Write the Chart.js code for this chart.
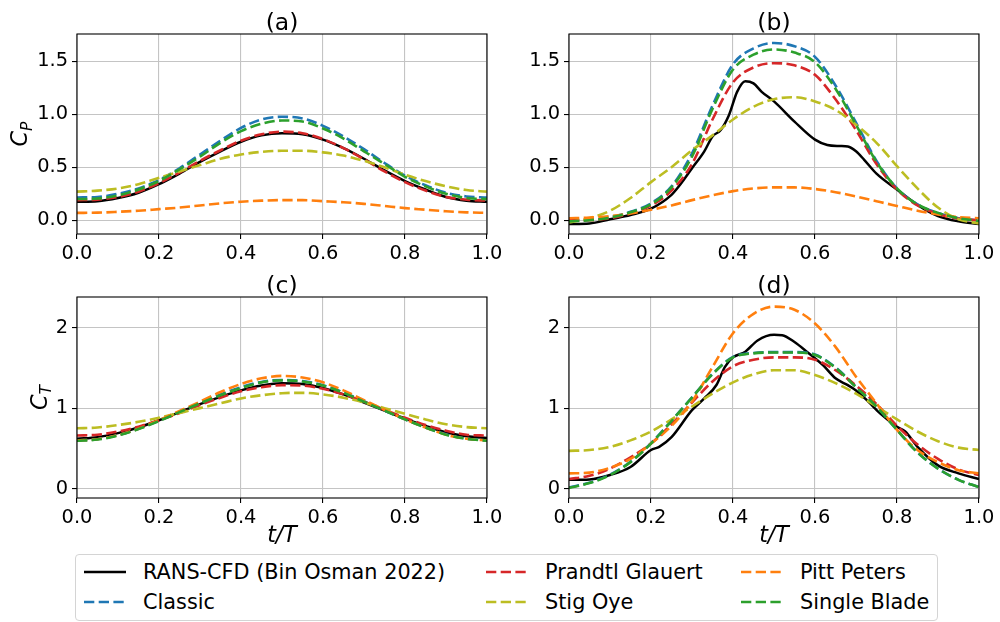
<!DOCTYPE html>
<html>
<head>
<meta charset="utf-8">
<script src="https://cdn.jsdelivr.net/npm/chart.js"></script>
<style>
  body{margin:0;background:#fff;font-family:"DejaVu Sans",sans-serif;}
  #wrap{position:relative;width:1000px;height:622px;overflow:hidden;}
  canvas{position:absolute;left:0;top:0;}
  #legend{position:absolute;left:75px;top:554px;width:861px;height:65px;border:1px solid #d4d4d4;border-radius:4px;background:#fff;}
  .item{position:absolute;height:24px;}
  .item svg{position:absolute;left:0;top:9px;}
  .item span{position:absolute;white-space:nowrap;font-size:20.8px;line-height:24px;color:#000;}
</style>
</head>
<body>
<div id="wrap">
  <canvas id="ca" width="1000" height="622"></canvas>
  <canvas id="cb" width="1000" height="622"></canvas>
  <canvas id="cc" width="1000" height="622"></canvas>
  <canvas id="cd" width="1000" height="622"></canvas>
  <div id="legend"></div>
</div>
<script>

// =====================
// DATA
// =====================

const tGrid = [0,0.05,0.1,0.15,0.2,0.25,0.3,0.35,0.4,0.45,0.5,0.55,0.6,0.65,0.7,0.75,0.8,0.85,0.9,0.95,1.0];
const xTicks = [0,0.2,0.4,0.6,0.8,1.0];
const cpTicks = [0,0.5,1.0,1.5];
const ctTicks = [0,1,2];

const seriesNames = ["RANS-CFD (Bin Osman 2022)","Classic","Prandtl Glauert","Stig Oye","Pitt Peters","Single Blade"];

// (a) C_P, low case
const cpCfdA     = [0.175,0.18,0.21,0.26,0.34,0.44,0.55,0.65,0.74,0.80,0.82,0.81,0.76,0.68,0.58,0.47,0.37,0.29,0.22,0.185,0.175];
const cpClassicA = [0.215,0.22,0.25,0.30,0.38,0.49,0.62,0.75,0.87,0.95,0.975,0.96,0.89,0.79,0.67,0.54,0.42,0.33,0.26,0.225,0.215];
const cpPrandtlA = [0.19,0.195,0.22,0.27,0.35,0.45,0.56,0.66,0.75,0.81,0.835,0.82,0.765,0.68,0.575,0.46,0.36,0.28,0.22,0.195,0.185];
const cpOyeA     = [0.27,0.28,0.30,0.34,0.40,0.46,0.52,0.58,0.62,0.645,0.655,0.655,0.64,0.61,0.56,0.50,0.43,0.37,0.32,0.285,0.27];
const cpPittA    = [0.07,0.072,0.08,0.09,0.105,0.12,0.14,0.16,0.175,0.185,0.19,0.19,0.18,0.17,0.155,0.135,0.115,0.1,0.085,0.075,0.07];
const cpSingleA  = [0.20,0.205,0.235,0.29,0.37,0.48,0.60,0.73,0.84,0.91,0.94,0.93,0.865,0.77,0.65,0.53,0.41,0.32,0.25,0.21,0.20];

// (b) C_P, high case
const tCfdB      = [0,0.05,0.1,0.15,0.2,0.25,0.27,0.3,0.33,0.35,0.37,0.39,0.41,0.43,0.45,0.47,0.5,0.55,0.6,0.63,0.66,0.68,0.7,0.72,0.75,0.8,0.85,0.9,0.95,1.0];
const cpCfdB     = [-0.035,-0.03,0.01,0.05,0.11,0.24,0.33,0.49,0.65,0.79,0.85,0.99,1.21,1.31,1.29,1.21,1.12,0.93,0.76,0.71,0.70,0.695,0.65,0.57,0.44,0.29,0.145,0.04,-0.01,-0.035];
const cpClassicB = [0.0,0.005,0.03,0.08,0.16,0.32,0.63,1.08,1.47,1.62,1.67,1.64,1.54,1.27,0.92,0.56,0.30,0.15,0.07,0.02,0.0];
const cpPrandtlB = [0.0,0.0,0.02,0.065,0.14,0.28,0.53,0.95,1.3,1.44,1.48,1.46,1.37,1.14,0.85,0.53,0.29,0.14,0.06,0.015,0.0];
const cpOyeB     = [-0.02,0.02,0.09,0.21,0.36,0.5,0.66,0.8,0.95,1.07,1.14,1.16,1.12,1.04,0.9,0.73,0.51,0.3,0.12,0.01,-0.03];
const cpPittB    = [0.02,0.025,0.04,0.065,0.1,0.14,0.19,0.235,0.275,0.3,0.31,0.31,0.295,0.265,0.225,0.18,0.135,0.09,0.055,0.03,0.02];
const cpSingleB  = [-0.01,0.0,0.025,0.075,0.15,0.31,0.6,1.05,1.42,1.56,1.61,1.58,1.49,1.24,0.9,0.55,0.3,0.15,0.07,0.02,-0.005];

// (c) C_T, low case
const ctCfdC     = [0.62,0.64,0.69,0.76,0.85,0.95,1.05,1.14,1.22,1.28,1.31,1.30,1.25,1.17,1.07,0.97,0.87,0.78,0.70,0.65,0.63];
const ctClassicC = [0.60,0.615,0.665,0.745,0.845,0.955,1.065,1.17,1.26,1.325,1.35,1.335,1.285,1.195,1.085,0.97,0.86,0.76,0.675,0.62,0.60];
const ctPrandtlC = [0.66,0.67,0.71,0.77,0.85,0.94,1.04,1.13,1.21,1.26,1.285,1.28,1.24,1.17,1.08,0.98,0.88,0.79,0.72,0.67,0.66];
const ctOyeC     = [0.75,0.76,0.79,0.83,0.88,0.94,1.0,1.06,1.12,1.16,1.185,1.19,1.17,1.13,1.07,1.0,0.93,0.86,0.8,0.765,0.75];
const ctPittC    = [0.60,0.615,0.665,0.745,0.85,0.965,1.08,1.2,1.3,1.37,1.40,1.38,1.32,1.22,1.1,0.98,0.86,0.76,0.67,0.62,0.60];
const ctSingleC  = [0.595,0.61,0.66,0.74,0.84,0.95,1.06,1.16,1.25,1.32,1.345,1.33,1.28,1.19,1.08,0.97,0.86,0.76,0.67,0.62,0.595];

// (d) C_T, high case
const tCfdD      = [0,0.05,0.1,0.15,0.2,0.22,0.25,0.3,0.33,0.36,0.38,0.4,0.43,0.46,0.5,0.52,0.55,0.58,0.62,0.65,0.68,0.7,0.73,0.76,0.8,0.82,0.85,0.9,0.95,1.0];
const ctCfdD     = [0.11,0.115,0.17,0.27,0.48,0.52,0.64,0.975,1.12,1.29,1.51,1.63,1.70,1.84,1.91,1.905,1.82,1.70,1.53,1.37,1.285,1.22,1.08,0.93,0.77,0.71,0.52,0.29,0.19,0.12];
const ctClassicD = [0.015,0.075,0.175,0.335,0.565,0.845,1.135,1.425,1.635,1.685,1.695,1.695,1.665,1.505,1.265,1.02,0.73,0.45,0.25,0.11,0.02];
const ctPrandtlD = [0.12,0.16,0.25,0.39,0.56,0.8,1.07,1.33,1.52,1.6,1.63,1.63,1.6,1.47,1.28,1.05,0.78,0.55,0.37,0.24,0.17];
const ctOyeD     = [0.47,0.48,0.52,0.6,0.71,0.86,1.02,1.18,1.32,1.42,1.47,1.47,1.41,1.31,1.18,1.02,0.86,0.71,0.59,0.51,0.48];
const ctPittD    = [0.19,0.2,0.26,0.37,0.56,0.78,1.08,1.51,1.93,2.17,2.26,2.22,2.05,1.76,1.39,1.06,0.73,0.48,0.33,0.23,0.19];
const ctSingleD  = [0.01,0.07,0.17,0.33,0.56,0.84,1.13,1.42,1.63,1.68,1.69,1.69,1.66,1.5,1.26,1.02,0.73,0.45,0.25,0.11,0.02];


// =====================
// STYLE
// =====================

const colors = ["#000000","#1f77b4","#d62728","#bcbd22","#ff7f0e","#2ca02c"];
const FONT = "DejaVu Sans";
const DASH = [10.3,4.4];

// frame, panel title and y label (C with subscript)
const framePlugin = {
  id:"frame",
  afterDatasetsDraw(chart, args, opts){
    const ctx = chart.ctx, a = chart.chartArea;
    ctx.save();
    ctx.strokeStyle = "#000";
    ctx.lineWidth = 1.1;
    ctx.strokeRect(a.left, a.top, a.right-a.left, a.bottom-a.top);

    ctx.fillStyle = "#000";
    ctx.font = `23.5px "${FONT}"`;
    ctx.textAlign = "center";
    ctx.textBaseline = "alphabetic";
    ctx.fillText(opts.title, (a.left+a.right)/2, a.top-4);

    if(opts.ySub){
      ctx.translate(opts.yX, (a.top+a.bottom)/2);
      ctx.rotate(-Math.PI/2);
      ctx.font = `italic 22.2px "${FONT}"`;
      const wC = ctx.measureText("C").width;
      ctx.font = `italic 15.5px "${FONT}"`;
      const wS = ctx.measureText(opts.ySub).width;
      const x0 = -(wC+wS)/2;
      ctx.textAlign = "left";
      ctx.font = `italic 22.2px "${FONT}"`;
      ctx.fillText("C", x0, 0);
      ctx.font = `italic 15.5px "${FONT}"`;
      ctx.fillText(opts.ySub, x0+wC, 4.5);
    }
    ctx.restore();
  }
};


// =====================
// PANEL
// =====================

function panel(id, area, yMin, yMax, yTicks, fmt, title, ySub, yX, showX, series){

  const W = 1000, H = 622;
  const yw = 70;
  const xh = showX ? 52 : 36;

  new Chart(document.getElementById(id), {
    type:"line",
    data:{
      datasets: series.map((s,i)=>({
        label: seriesNames[i],
        data: s.t.map((t,k)=>({x:t, y:s.v[k]})),
        borderColor: colors[i],
        borderWidth: i==0 ? 2.5 : 2.6,
        borderDash: i==0 ? [] : DASH,
        pointRadius: 0,
        fill: false,
        cubicInterpolationMode: "monotone",
        order: 6-i
      }))
    },
    options:{
      responsive:false,
      animation:false,
      events:[],
      layout:{padding:{left:area.l-yw, right:W-area.r, top:area.t, bottom:H-area.b-xh}},
      plugins:{
        legend:{display:false},
        tooltip:{enabled:false},
        frame:{title:title, ySub:ySub, yX:yX}
      },
      scales:{
        x:{
          type:"linear", min:0, max:1,
          afterBuildTicks: s=>{ s.ticks = xTicks.map(v=>({value:v})); },
          afterFit: s=>{ s.height = xh; s.paddingLeft = 0; s.paddingRight = 0; },
          grid:{color:"#c4c4c4", lineWidth:1.1, tickColor:"#000", tickLength:5},
          border:{display:false},
          ticks:{color:"#000", font:{family:FONT, size:19.4}, padding:3, maxRotation:0, autoSkip:false,
                 callback: v=>Number(v).toFixed(1)},
          title:{display:showX, text:"t/T", color:"#000",
                 font:{family:FONT, size:22.2, style:"italic"}, padding:{top:0, bottom:0}}
        },
        y:{
          type:"linear", min:yMin, max:yMax,
          afterBuildTicks: s=>{ s.ticks = yTicks.map(v=>({value:v})); },
          afterFit: s=>{ s.width = yw; s.paddingTop = 0; s.paddingBottom = 0; },
          grid:{color:"#c4c4c4", lineWidth:1.1, tickColor:"#000", tickLength:5},
          border:{display:false},
          ticks:{color:"#000", font:{family:FONT, size:19.4}, padding:4, autoSkip:false, callback: fmt}
        }
      }
    },
    plugins:[framePlugin]
  });
}

const f1 = v=>Number(v).toFixed(1);
const f0 = v=>Number(v).toFixed(0);

panel("ca", {l:77, r:487, t:34, b:234}, -0.129, 1.755, cpTicks, f1, "(a)", "P", 27, false, [
  {t:tGrid, v:cpCfdA}, {t:tGrid, v:cpClassicA}, {t:tGrid, v:cpPrandtlA},
  {t:tGrid, v:cpOyeA}, {t:tGrid, v:cpPittA}, {t:tGrid, v:cpSingleA}
]);

panel("cb", {l:569, r:979, t:34, b:234}, -0.129, 1.755, cpTicks, f1, "(b)", null, 0, false, [
  {t:tCfdB, v:cpCfdB}, {t:tGrid, v:cpClassicB}, {t:tGrid, v:cpPrandtlB},
  {t:tGrid, v:cpOyeB}, {t:tGrid, v:cpPittB}, {t:tGrid, v:cpSingleB}
]);

panel("cc", {l:77, r:487, t:297, b:498}, -0.115, 2.379, ctTicks, f0, "(c)", "T", 46.5, true, [
  {t:tGrid, v:ctCfdC}, {t:tGrid, v:ctClassicC}, {t:tGrid, v:ctPrandtlC},
  {t:tGrid, v:ctOyeC}, {t:tGrid, v:ctPittC}, {t:tGrid, v:ctSingleC}
]);

panel("cd", {l:569, r:979, t:297, b:498}, -0.115, 2.379, ctTicks, f0, "(d)", null, 0, true, [
  {t:tCfdD, v:ctCfdD}, {t:tGrid, v:ctClassicD}, {t:tGrid, v:ctPrandtlD},
  {t:tGrid, v:ctOyeD}, {t:tGrid, v:ctPittD}, {t:tGrid, v:ctSingleD}
]);


// =====================
// LEGEND
// =====================

// column-wise like matplotlib ncol=3
const legendSlots = [
  {i:0, x:8,   y:5},  {i:1, x:8,   y:35},
  {i:2, x:410, y:5},  {i:4, x:665, y:5},
  {i:3, x:410, y:35}, {i:5, x:665, y:35}
];

const leg = document.getElementById("legend");
legendSlots.forEach(s=>{
  const dash = s.i==0 ? "" : `stroke-dasharray="${DASH.join(" ")}"`;
  leg.innerHTML += `
    <div class="item" style="left:${s.x}px;top:${s.y}px">
      <svg width="42" height="6"><line x1="0" y1="3" x2="42" y2="3" stroke="${colors[s.i]}" stroke-width="2.6" ${dash}/></svg>
      <span style="left:59px">${seriesNames[s.i]}</span>
    </div>`;
});

</script>
</body>
</html>
